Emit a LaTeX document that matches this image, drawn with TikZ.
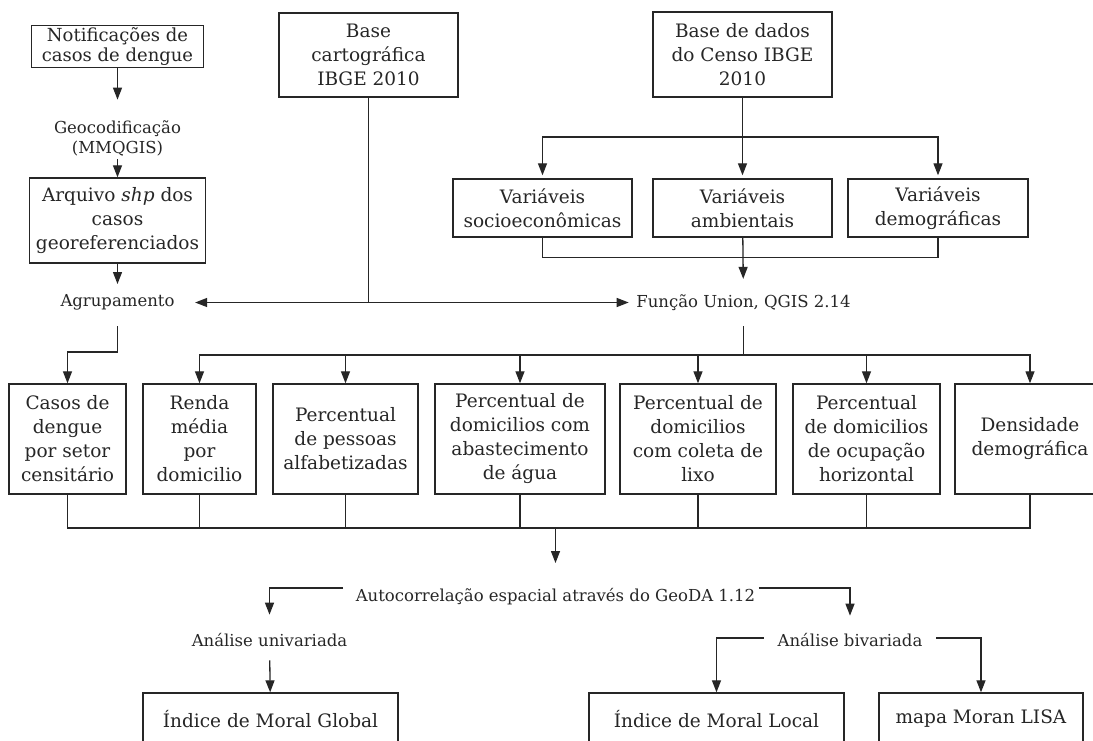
\documentclass[tikz,border=0pt]{standalone}
\usepackage{fontspec}
\setmainfont{DejaVu Serif}
\usetikzlibrary{arrows.meta,positioning}

\begin{document}
\begin{tikzpicture}[x=1pt,y=-1pt,line width=1.3pt,color=black!85,
	caixa/.style={draw,line width=1.4pt,align=center,inner sep=1pt,font=\fontsize{18.5}{24}\selectfont},
	rotulo/.style={align=center,inner sep=3pt,font=\fontsize{16.5}{20}\selectfont},
	seta/.style={-{Triangle[length=12pt,width=9pt]}}]
	\useasboundingbox[fill=white] (0,0) rectangle (1093,740);
	% coluna da esquerda
	\node[caixa,minimum width=172pt,minimum height=42pt,font=\fontsize{18}{19.5}\selectfont] (notif) at (117.5,46.5) {Notificações de\\casos de dengue};
	\node[rotulo] (geo) at (117.5,138) {Geocodificação\\(MMQGIS)};
	\node[caixa,minimum width=176pt,minimum height=85pt] (arq) at (117.5,220.5) {Arquivo \emph{shp} dos\\casos\\georeferenciados};
	\node[rotulo] (agr) at (117.5,302.5) {Agrupamento};
	% bases
	\node[caixa,minimum width=179pt,minimum height=84pt] (basecart) at (368.5,55) {Base\\cartográfica\\IBGE 2010};
	\node[caixa,minimum width=179pt,minimum height=85pt] (basedados) at (742.5,54.5) {Base de dados\\do Censo IBGE\\2010};
	\node[caixa,minimum width=179pt,minimum height=58pt] (socio) at (542.5,208) {Variáveis\\socioeconômicas};
	\node[caixa,minimum width=179pt,minimum height=58pt] (amb) at (742.5,208) {Variáveis\\ambientais};
	\node[caixa,minimum width=180pt,minimum height=58pt] (demo) at (938,208) {Variáveis\\demográficas};
	\node[rotulo] (uniao) at (743.5,302.5) {Função Union, QGIS 2.14};
	% indicadores
	\node[caixa,minimum width=117pt,minimum height=110pt] (casos) at (67.5,439) {Casos de\\dengue\\por setor\\censitário};
	\node[caixa,minimum width=113pt,minimum height=110pt] (renda) at (199.5,439) {Renda\\média\\por\\domicilio};
	\node[caixa,minimum width=145pt,minimum height=110pt] (pessoas) at (345.5,439) {Percentual\\de pessoas\\alfabetizadas};
	\node[caixa,minimum width=170pt,minimum height=110pt] (agua) at (520,439) {Percentual de\\domicilios com\\abastecimento\\de água};
	\node[caixa,minimum width=156pt,minimum height=110pt] (lixo) at (698,439) {Percentual de\\domicilios\\com coleta de\\lixo};
	\node[caixa,minimum width=147pt,minimum height=110pt] (horiz) at (866.5,439) {Percentual\\de domicilios\\de ocupação\\horizontal};
	\node[caixa,minimum width=150pt,minimum height=110pt] (dens) at (1030,439) {Densidade\\demográfica};
	% analise
	\node[rotulo] (autoc) at (555.5,597) {Autocorrelação espacial através do GeoDA 1.12};
	\node[rotulo] (uni) at (269.5,640) {Análise univariada};
	\node[rotulo] (biv) at (850,640) {Análise bivariada};
	\node[caixa,minimum width=255pt,minimum height=52pt] (global) at (270.5,719) {Índice de Moral Global};
	\node[caixa,minimum width=255pt,minimum height=52pt] (local) at (716.5,719) {Índice de Moral Local};
	\node[caixa,minimum width=204pt,minimum height=52pt] (lisa) at (981,719) {mapa Moran LISA};
	% pontos de ramificacao
	\coordinate (j1) at (742.5,137);
	\coordinate (j3) at (743.5,355);
	\coordinate (j4) at (555.5,528);
	\coordinate (j5) at (117.5,352);
	% ligacoes
	\draw[seta,shorten >=17pt] (notif) -- (geo);
	\draw[seta] (geo) -- (arq);
	\draw[seta,shorten >=7pt] (arq) -- (agr);
	\draw[seta,shorten >=17pt] (basecart.south) |- (agr.east);
	\draw[seta,shorten >=4pt] (basecart.south) |- (uniao.west);
	\draw[seta,shorten >=3pt] (basedados) -- (amb);
	\draw[seta,shorten >=3pt] (j1) -| (socio);
	\draw[seta,shorten >=3pt] (j1) -| (demo);
	\draw (socio.south) -- ++(0,20) -| (demo.south);
	\draw[seta,shorten >=12pt] (amb) -- (uniao);
	\draw[shorten <=12pt] (uniao.south) -- (j3);
	\foreach \b in {renda,pessoas,agua,lixo,horiz,dens}
		\draw[seta] (j3) -| (\b.north);
	\draw[seta,shorten <=12pt] (agr.south) -- (j5) -| (casos.north);
	\draw (casos.south) |- (j4) -| (dens.south);
	\foreach \b in {renda,pessoas,agua,lixo,horiz}
		\draw (\b.south) -- (\b.south |- j4);
	\draw[seta,shorten >=22pt] (j4) -- (autoc);
	\draw[seta,shorten <=9pt,shorten >=15pt] ([yshift=9pt]autoc.west) -| (uni.north);
	\draw[seta,shorten >=14pt] ([yshift=9pt]autoc.east) -| (biv.north);
	\draw[seta,shorten <=10pt] (uni) -- (global);
	\draw[seta,shorten <=10pt] ([yshift=2pt]biv.west) -| (local.north);
	\draw[seta,shorten <=10pt] ([yshift=2pt]biv.east) -| (lisa.north);
\end{tikzpicture}
\end{document}
